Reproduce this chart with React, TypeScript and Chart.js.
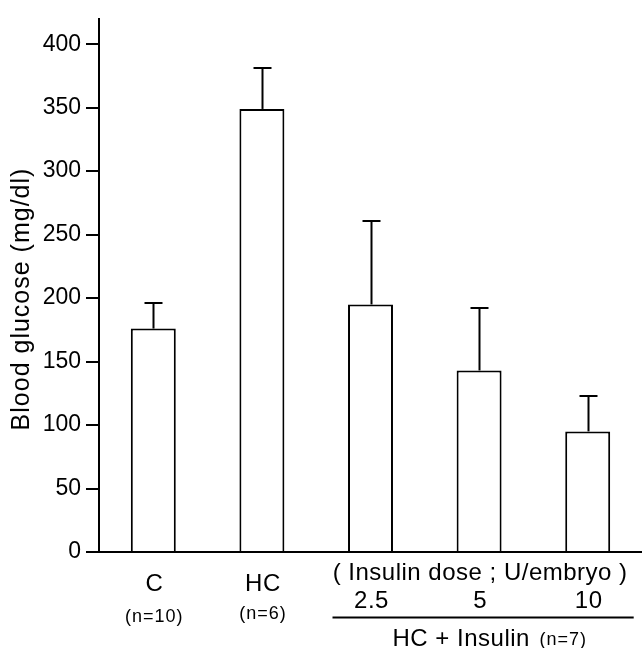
import React, { useEffect, useRef } from "react";
import { Chart, registerables } from "chart.js";

Chart.register(...registerables);

const categories = ["C", "HC", "2.5", "5", "10"];
const groupSizes = ["(n=10)", "(n=6)", "", "", ""];
const meanGlucose = [176, 349, 195, 143, 95];
const sdGlucose = [20, 32, 66, 49, 28];
const yTicksMax = 420;
const yStep = 50;
const yTitle = "Blood glucose (mg/dl)";
const doseHeader = "( Insulin dose ; U/embryo )";
const groupLabel = "HC + Insulin";
const groupN = "(n=7)";

const FONT = "'Liberation Sans', Arial, Helvetica, sans-serif";

const annotate = {
  id: "annotate",
  afterDatasetsDraw(chart: any) {
    const ctx = chart.ctx;
    const x = chart.scales.x;
    const y = chart.scales.y;
    ctx.save();
    ctx.strokeStyle = "#000";
    ctx.lineWidth = 2;
    // error bars
    meanGlucose.forEach((m, i) => {
      const cx = Math.round(x.getPixelForValue(i)) + 0.5;
      const yTop = y.getPixelForValue(m);
      const yErr = Math.round(y.getPixelForValue(m + sdGlucose[i]));
      ctx.beginPath();
      ctx.moveTo(cx, yTop);
      ctx.lineTo(cx, yErr);
      ctx.stroke();
      ctx.beginPath();
      ctx.moveTo(cx - 9, yErr);
      ctx.lineTo(cx + 9, yErr);
      ctx.stroke();
    });
    ctx.restore();
  },
  afterDraw(chart: any) {
    const ctx = chart.ctx;
    const x = chart.scales.x;
    const area = chart.chartArea;
    ctx.save();
    ctx.fillStyle = "#000";
    ctx.textAlign = "center";
    ctx.textBaseline = "alphabetic";
    // category labels
    categories.forEach((c, i) => {
      const cx = x.getPixelForValue(i);
      ctx.font = `24px ${FONT}`;
      (ctx as any).letterSpacing = "0.5px";
      const base = i < 2 ? 591 : 608;
      ctx.fillText(c, cx + 1, base);
      if (groupSizes[i]) {
        ctx.font = `18px ${FONT}`;
        (ctx as any).letterSpacing = "1px";
        ctx.fillText(groupSizes[i], cx + 1, i === 0 ? 622 : 619);
      }
    });
    // dose header
    const c3 = x.getPixelForValue(3);
    ctx.font = `24px ${FONT}`;
    (ctx as any).letterSpacing = "0.5px";
    ctx.fillText(doseHeader, c3 + 1, 580);
    // group line
    const x2 = x.getPixelForValue(2);
    const x4 = x.getPixelForValue(4);
    ctx.strokeStyle = "#000";
    ctx.lineWidth = 2;
    ctx.beginPath();
    ctx.moveTo(x2 - 38, 617.5);
    ctx.lineTo(x4 + 46, 617.5);
    ctx.stroke();
    // HC + Insulin
    ctx.textAlign = "left";
    ctx.font = `24px ${FONT}`;
    ctx.fillText(groupLabel, x2 + 22, 646);
    ctx.font = `18px ${FONT}`;
    (ctx as any).letterSpacing = "1px";
    ctx.fillText(groupN, x2 + 169, 645);
    // y title
    ctx.save();
    ctx.translate(29, 299);
    ctx.rotate(-Math.PI / 2);
    ctx.textAlign = "center";
    ctx.font = `25px ${FONT}`;
    (ctx as any).letterSpacing = "1px";
    ctx.fillText(yTitle, 0, 0);
    ctx.restore();
    (ctx as any).letterSpacing = "0px";
    ctx.restore();
  },
};

export default function App() {
  const ref = useRef<HTMLCanvasElement | null>(null);
  useEffect(() => {
    if (!ref.current) return;
    const chart = new Chart(ref.current, {
      type: "bar",
      data: {
        labels: categories,
        datasets: [
          {
            data: meanGlucose,
            backgroundColor: "#fff",
            borderColor: "#000",
            borderWidth: 2,
            borderSkipped: "start",
            barPercentage: 0.414,
            categoryPercentage: 1,
          },
        ],
      },
      options: {
        animation: false,
        responsive: false,
        devicePixelRatio: 1,
        layout: { padding: { top: 13, left: 0, right: 0, bottom: 0 } },
        plugins: {
          legend: { display: false },
          tooltip: { enabled: false },
          title: { display: false },
        },
        scales: {
          x: {
            type: "category",
            offset: true,
            grid: { display: false, drawTicks: false },
            border: { display: true, color: "#000", width: 2 },
            ticks: { display: false },
            afterFit: (s: any) => {
              s.height = 96;
            },
          },
          y: {
            min: 0,
            max: yTicksMax,
            border: { display: true, color: "#000", width: 2 },
            grid: {
              drawOnChartArea: false,
              drawTicks: true,
              tickLength: 13,
              color: "#000",
              lineWidth: 2,
            },
            ticks: {
              stepSize: yStep,
              includeBounds: false,
              color: "#000",
              padding: 5,
              font: { family: FONT, size: 23 },
            },
            afterFit: (s: any) => {
              s.width = 99;
            },
          },
        },
      },
      plugins: [annotate],
    });
    return () => chart.destroy();
  }, []);
  return (
    <div
      style={{
        position: "fixed",
        left: 0,
        top: 0,
        width: 642,
        height: 648,
        background: "#fff",
      }}
    >
      <canvas ref={ref} width={642} height={648} style={{ display: "block" }} />
    </div>
  );
}
